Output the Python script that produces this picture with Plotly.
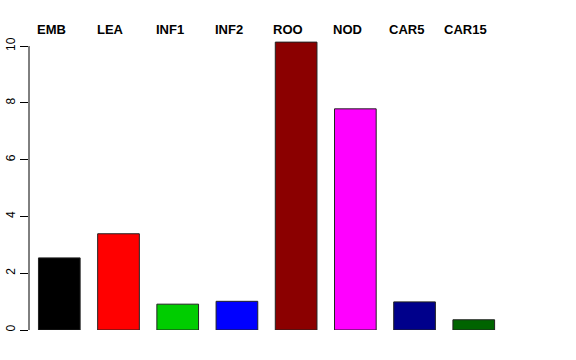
import plotly.graph_objects as go

categories = ["EMB", "LEA", "INF1", "INF2", "ROO", "NOD", "CAR5", "CAR15"]
values = [2.54, 3.39, 0.91, 1.01, 10.14, 7.79, 0.99, 0.36]
colors = ["#000000", "#FF0000", "#00CD00", "#0000FF", "#8B0000", "#FF00FF", "#00008B", "#006400"]
yticks = [0, 2, 4, 6, 8, 10]

xpos = list(range(len(categories)))

fig = go.Figure()
fig.add_trace(go.Bar(
    x=xpos, y=values, width=0.704,
    marker=dict(color=colors, line=dict(color="#222222", width=1)),
    showlegend=False, hoverinfo="skip",
))

for i, c in enumerate(categories):
    fig.add_annotation(x=xpos[i], y=1, xref="x", yref="paper", text="<b>%s</b>" % c,
                       showarrow=False, xanchor="center", yanchor="middle",
                       xshift=-8, yshift=8,
                       font=dict(family="Liberation Sans, Arial, sans-serif", size=13, color="black"))

fig.add_shape(type="line", xref="paper", yref="y", x0=0, x1=0, y0=yticks[0], y1=yticks[-1],
              line=dict(color="black", width=1))

fig.update_layout(
    width=576, height=360,
    margin=dict(l=29, r=29, t=37, b=30, autoexpand=False),
    paper_bgcolor="white", plot_bgcolor="white",
    font=dict(family="Liberation Sans, Arial, sans-serif", size=12, color="black"),
    xaxis=dict(range=[-0.5117, 8.237], showticklabels=False, showgrid=False, zeroline=False,
               showline=False, ticks="", automargin=False),
    yaxis=dict(range=[0, 10.32], tickvals=yticks, ticktext=[str(v) for v in yticks],
               tickangle=-90, ticks="outside", ticklen=8, tickcolor="black", tickwidth=1,
               showgrid=False, zeroline=False, showline=False, automargin=False,
               tickfont=dict(size=12, color="black")),
)

fig.write_html("out.html")
